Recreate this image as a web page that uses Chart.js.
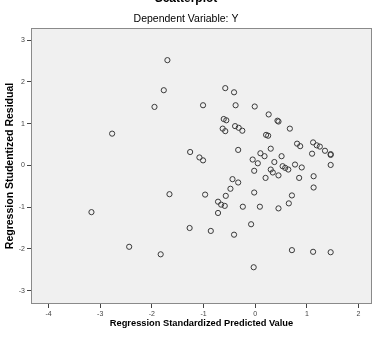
<!DOCTYPE html>
<html>
<head>
<meta charset="utf-8">
<script src="https://cdn.jsdelivr.net/npm/chart.js@4/dist/chart.umd.min.js"></script>
<style>
  html, body { margin: 0; padding: 0; background: #fff; }
  #marco { position: relative; width: 378px; height: 339px; overflow: hidden; }
  #marco canvas { position: absolute; left: 0; top: -9px; }
</style>
</head>
<body>
<div id="marco"><canvas id="graficoResiduos" width="378" height="348"></canvas></div>
<script>
// Valores (x = valor pronosticado estandarizado, y = residuo studentizado)
const valoresX = [
  -1.70, -1.77, -1.95, -1.01, -2.77, -1.26, -1.08, -1.01, -1.66, -0.97,
  -3.17, -1.27, -2.44, -1.83, -0.86, -0.58, -0.41, -0.38, -0.01, 0.26,
  0.43, 0.45, -0.61, -0.56, 0.67, -0.63, -0.58, -0.39, -0.32, -0.25,
  0.21, 0.25, -0.33, 0.30, 0.81, 0.87, 1.12, 1.19, 1.25, 1.35,
  1.46, 1.46, 1.10, 1.46, -0.05, 0.05, 0.10, 0.18, 0.51, 0.37,
  0.77, 0.53, 0.58, 0.64, 0.90, 0.30, -0.02, 0.34, 0.45, 0.20,
  0.85, 1.13, 1.13, -0.44, -0.33, -0.48, -0.57, -0.02, 0.71, -0.72,
  -0.66, -0.59, -0.72, -0.24, 0.09, 0.45, 0.65, -0.08, -0.41, 0.71,
  1.12, 1.46, -0.03
];
const valoresY = [
  2.52, 1.80, 1.40, 1.44, 0.76, 0.32, 0.19, 0.12, -0.69, -0.70,
  -1.12, -1.50, -1.95, -2.13, -1.57, 1.85, 1.75, 1.44, 1.41, 1.22,
  1.07, 1.05, 1.11, 1.08, 0.88, 0.88, 0.82, 0.94, 0.90, 0.83,
  0.73, 0.71, 0.37, 0.40, 0.52, 0.46, 0.55, 0.48, 0.45, 0.35,
  0.27, 0.25, 0.28, 0.01, 0.14, 0.05, 0.29, 0.22, 0.22, 0.08,
  0.02, -0.02, -0.06, -0.10, -0.05, -0.10, -0.13, -0.17, -0.24, -0.30,
  -0.30, -0.26, -0.53, -0.33, -0.41, -0.56, -0.73, -0.65, -0.72, -0.87,
  -0.94, -0.97, -1.14, -0.99, -0.99, -1.03, -0.91, -1.41, -1.66, -2.03,
  -2.07, -2.08, -2.44
];
const rangoX = [-4.34, 2.26];
const rangoY = [-3.32, 3.29];

const puntos = valoresX.map((x, i) => ({ x: x, y: valoresY[i] }));
const fuente = '"Liberation Sans", Arial, sans-serif';

// Fondo gris del area de trazado
const fondoArea = {
  id: "fondoArea",
  beforeDraw(chart) {
    const { ctx, chartArea: a } = chart;
    ctx.save();
    ctx.fillStyle = "#f0f0f0";
    ctx.fillRect(a.left, a.top, a.right - a.left, a.bottom - a.top);
    ctx.strokeStyle = "#8a8a8a";
    ctx.lineWidth = 1;
    ctx.strokeRect(a.left + 0.5, a.top + 0.5, a.right - a.left - 1, a.bottom - a.top - 1);
    ctx.restore();
  },
};

const ctx = document.getElementById("graficoResiduos").getContext("2d");
new Chart(ctx, {
  type: "scatter",
  data: {
    datasets: [
      {
        data: puntos,
        pointRadius: 2.6,
        pointBorderWidth: 1,
        pointBorderColor: "#3a3a3a",
        pointBackgroundColor: "rgba(0,0,0,0)",
      },
    ],
  },
  options: {
    responsive: false,
    animation: false,
    layout: { padding: { left: 0, right: 6, top: 0, bottom: 0 } },
    plugins: {
      legend: { display: false },
      tooltip: { enabled: false },
      title: {
        display: true,
        text: "Scatterplot",
        color: "#000",
        font: { family: fuente, size: 12, weight: "bold" },
        padding: { top: 0, bottom: 7 },
      },
      subtitle: {
        display: true,
        text: "Dependent Variable: Y",
        color: "#000",
        font: { family: fuente, size: 10.5 },
        padding: { top: 0, bottom: 3 },
      },
    },
    scales: {
      x: {
        type: "linear",
        min: rangoX[0],
        max: rangoX[1],
        afterFit(scale) { scale.height = 35; },
        grid: { display: true, drawOnChartArea: false, drawTicks: true, tickLength: 4, color: "#444" },
        border: { display: false },
        ticks: {
          stepSize: 1,
          includeBounds: false,
          color: "#444",
          padding: 2,
          font: { family: fuente, size: 7 },
        },
        title: {
          display: true,
          text: "Regression Standardized Predicted Value",
          color: "#000",
          font: { family: fuente, size: 9.3, weight: "bold" },
          padding: { top: 0, bottom: 10 },
        },
      },
      y: {
        type: "linear",
        min: rangoY[0],
        max: rangoY[1],
        afterFit(scale) { scale.width = 31; },
        grid: { display: true, drawOnChartArea: false, drawTicks: true, tickLength: 4, color: "#444" },
        border: { display: false },
        ticks: {
          stepSize: 1,
          includeBounds: false,
          color: "#444",
          padding: 2,
          font: { family: fuente, size: 7 },
        },
        title: {
          display: true,
          text: "Regression Studentized Residual",
          color: "#000",
          font: { family: fuente, size: 10.5, weight: "bold" },
          padding: { top: 4, bottom: 0 },
        },
      },
    },
  },
  plugins: [fondoArea],
});
</script>
</body>
</html>
